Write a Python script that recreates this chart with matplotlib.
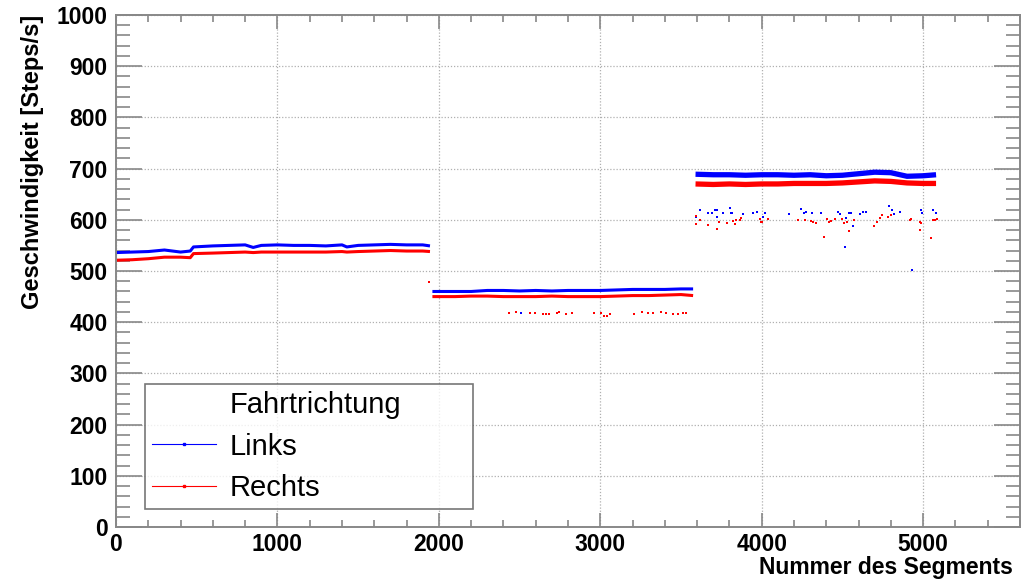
import numpy as np
import matplotlib
matplotlib.use("Agg")
import matplotlib.pyplot as plt
from matplotlib.lines import Line2D

# Daten
# Abschnitt 1
x1 = [0, 100, 200, 300, 400, 460, 480, 600, 700, 800, 850, 900, 1000, 1100, 1200,
      1300, 1400, 1430, 1500, 1600, 1700, 1800, 1900, 1945]
links1 = [536, 537, 538, 541, 537, 539, 547, 549, 550, 551, 546, 550, 551, 550, 550,
          549, 551, 547, 550, 551, 552, 551, 551, 549]
rechts1 = [521, 522, 524, 527, 527, 526, 534, 535, 536, 537, 536, 537, 537, 537, 537,
           537, 538, 537, 538, 539, 540, 539, 539, 538]
# Abschnitt 2
x2 = [1960, 2100, 2200, 2300, 2400, 2500, 2600, 2700, 2800, 2900, 3000, 3100, 3200,
      3300, 3400, 3500, 3575]
links2 = [460, 460, 460, 462, 462, 461, 462, 461, 462, 462, 462, 463, 464, 464, 464, 465, 465]
rechts2 = [450, 450, 451, 451, 450, 450, 450, 451, 450, 450, 450, 451, 452, 452, 453, 454, 452]
# Abschnitt 3
x3 = [3590, 3700, 3800, 3900, 4000, 4100, 4200, 4300, 4400, 4500, 4600, 4700, 4800,
      4900, 5000, 5080]
links3 = [689, 688, 688, 687, 688, 688, 687, 688, 686, 687, 690, 693, 692, 685, 686, 688]
rechts3 = [670, 669, 670, 669, 670, 670, 671, 671, 671, 672, 674, 676, 675, 672, 671, 671]

# Ausreisser
ausr_links_x = [2506, 3592, 3619, 3668, 3689, 3712, 3722, 3726, 3761, 3803, 3809, 3819,
                3881, 3943, 3970, 4011, 4022, 4171, 4243, 4260, 4274, 4309, 4367, 4475,
                4487, 4516, 4522, 4539, 4553, 4564, 4609, 4626, 4646, 4791, 4808, 4822,
                4857, 4932, 4984, 4992, 5060, 5080]
ausr_links_y = [417, 606, 619, 613, 613, 619, 606, 619, 613, 624, 613, 613,
                611, 614, 616, 606, 614, 611, 622, 614, 616, 614, 614, 615,
                612, 546, 604, 613, 613, 588, 612, 615, 615, 626, 620, 612,
                616, 502, 619, 614, 620, 613]
ausr_rechts_x = [1942, 2434, 2475, 2564, 2593, 2647, 2665, 2684, 2734, 2744, 2790, 2823,
                 2961, 3002, 3023, 3044, 3060, 3209, 3257, 3298, 3327, 3375, 3406, 3453,
                 3484, 3515, 3530,
                 3592, 3596, 3619, 3670, 3722, 3736, 3784, 3823, 3833, 3843, 3866, 3870,
                 3988, 3994, 4004, 4038, 4224, 4271, 4307, 4317, 4336, 4388, 4405, 4419,
                 4431, 4456, 4497, 4507, 4528, 4538, 4569, 4697, 4713, 4730, 4744, 4781,
                 4802, 4916, 4926, 4982, 4986, 4978, 5049, 5060, 5074, 5088]
ausr_rechts_y = [479, 418, 420, 417, 417, 416, 416, 416, 418, 419, 416, 417,
                 418, 417, 413, 413, 416, 416, 419, 417, 417, 419, 417, 416,
                 416, 418, 418,
                 607, 591, 599, 589, 582, 596, 593, 597, 592, 599, 600, 603,
                 601, 596, 596, 601, 600, 599, 598, 596, 593, 566, 601, 596,
                 598, 601, 601, 593, 596, 578, 600, 588, 596, 603, 609, 605,
                 609, 599, 601, 596, 593, 580, 564, 600, 600, 601]

plt.rcParams['font.family'] = ['Liberation Sans', 'DejaVu Sans']

fig = plt.figure(figsize=(10.35, 5.79), dpi=100)
ax = fig.add_axes([116/1035, 52/579, 904/1035, 512/579])

blau = '#0000ff'
rot = '#ff0000'

for xs, ys, lw in [(x1, links1, 2.2), (x2, links2, 2.2), (x3, links3, 3.8)]:
    ax.plot(xs, ys, color=blau, lw=lw, solid_capstyle='butt')
for xs, ys, lw in [(x1, rechts1, 2.2), (x2, rechts2, 2.2), (x3, rechts3, 3.8)]:
    ax.plot(xs, ys, color=rot, lw=lw, solid_capstyle='butt')
ax.plot(ausr_links_x, ausr_links_y, 's', color=blau, ms=1.9, mew=0)
ax.plot(ausr_rechts_x, ausr_rechts_y, 's', color=rot, ms=1.9, mew=0)

ax.set_xlim(0, 5600)
ax.set_ylim(0, 1000)
ax.set_xticks(np.arange(0, 5001, 1000))
ax.set_xticks(np.arange(0, 5601, 200), minor=True)
ax.set_yticks(np.arange(0, 1001, 100))
ax.set_yticks(np.arange(0, 1001, 20), minor=True)

ax.grid(True, which='major', color='#b0b0b0', ls=(0, (1, 1.5)), lw=0.9)
for s in ax.spines.values():
    s.set_color('#888888')
    s.set_linewidth(1.4)

ax.tick_params(which='both', direction='in', top=True, right=True, colors='#888888',
               labelcolor='black', width=1.2)
ax.tick_params(axis='x', which='major', length=10, pad=4)
ax.tick_params(axis='x', which='minor', length=5.2)
ax.tick_params(axis='y', which='major', length=19, pad=6)
ax.tick_params(axis='y', which='minor', length=10)
for lab in ax.get_xticklabels() + ax.get_yticklabels():
    lab.set_fontsize(16.5)
    lab.set_fontweight('bold')

ax.set_xlabel('Nummer des Segments', fontsize=16.5, fontweight='bold', loc='right')
ax.xaxis.set_label_coords(0.992, -0.057)
ax.set_ylabel('Geschwindigkeit [Steps/s]', fontsize=17, fontweight='bold', loc='top')
ax.yaxis.set_label_coords(-0.08, 1.0)

handles = [Line2D([], [], ls='none', marker=None),
           Line2D([], [], color=blau, lw=0.8, marker='s', ms=2),
           Line2D([], [], color=rot, lw=0.8, marker='s', ms=2)]
labels = ['Fahrtrichtung', 'Links', 'Rechts']
leg = fig.legend(handles, labels, loc='lower left',
                 bbox_to_anchor=(145/1035, 70/579, 328/1035, 123/579),
                 mode='expand', fontsize=21, frameon=True, fancybox=False,
                 edgecolor='#555555', borderaxespad=0, handlelength=2.2,
                 handletextpad=0.45, labelspacing=0.45, borderpad=0.25, numpoints=1)
leg.get_frame().set_linewidth(1.2)

fig.savefig('out.png', dpi=100, facecolor='white')
